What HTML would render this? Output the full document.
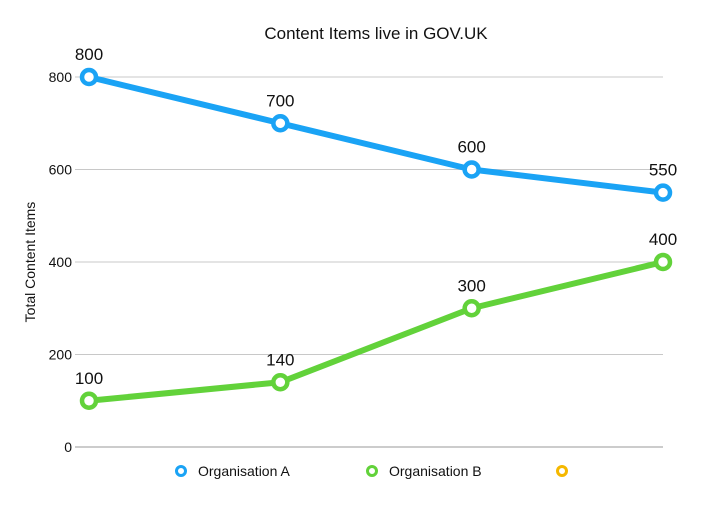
<!DOCTYPE html>
<html><head><meta charset="utf-8"><style>
body{margin:0;background:#fff;}
svg{display:block;font-family:"Liberation Sans",Arial,sans-serif;}
</style></head><body>
<svg id="chart" width="710" height="508">
<text x="376" y="39" font-size="17" text-anchor="middle" fill="#111">Content Items live in GOV.UK</text>
<text transform="translate(35,262) rotate(-90)" font-size="14" text-anchor="middle" fill="#111">Total Content Items</text>
<g id="grid"></g><g id="series"></g>
<g>
<circle cx="181" cy="471" r="4.5" fill="#fff" stroke="#1aa3f5" stroke-width="3"/>
<text x="198" y="476" font-size="14" fill="#111">Organisation A</text>
<circle cx="372" cy="471" r="4.5" fill="#fff" stroke="#62d23a" stroke-width="3"/>
<text x="389" y="476" font-size="14" fill="#111">Organisation B</text>
<circle cx="562" cy="471" r="4.5" fill="#fff" stroke="#f5b800" stroke-width="3"/>
</g>
</svg>
<script>
const categories=["Q1","Q2","Q3","Q4"];
const seriesA=[800,700,600,550];
const seriesB=[100,140,300,400];
const yTicks=[0,200,400,600,800];
const NS="http://www.w3.org/2000/svg";
function y(v){return 447-v*(370/800);}
function x(i){return 89+i*(574/(categories.length-1));}
function mk(t,a,p){const e=document.createElementNS(NS,t);for(const k in a)e.setAttribute(k,a[k]);p.appendChild(e);return e;}
const grid=document.getElementById('grid');
yTicks.forEach(v=>{
  const l=mk('line',{x1:75,x2:663,y1:y(v),y2:y(v),stroke:v===0?'#999':'#c8c8c8','stroke-width':1},grid);
  
  
  const t=mk('text',{x:72,y:y(v)+5,'font-size':14,'text-anchor':'end',fill:'#111'},grid);
  t.textContent=v;
  
  
});
const sg=document.getElementById('series');
[[seriesA,'#1aa3f5','a'],[seriesB,'#62d23a','b']].forEach(([d,c,n])=>{
  const p=mk('polyline',{points:d.map((v,i)=>x(i)+','+y(v)).join(' '),fill:'none',stroke:c,'stroke-width':6,'stroke-linejoin':'round'},sg);
  
  
  d.forEach((v,i)=>{
    const m=mk('circle',{cx:x(i),cy:y(v),r:7,fill:'#fff',stroke:c,'stroke-width':4.5},sg);
    
    
    const t=mk('text',{x:x(i),y:y(v)-17,'font-size':17,'text-anchor':'middle',fill:'#111'},sg);
    t.textContent=v;
    
    
  });
});
</script>
</body></html>
